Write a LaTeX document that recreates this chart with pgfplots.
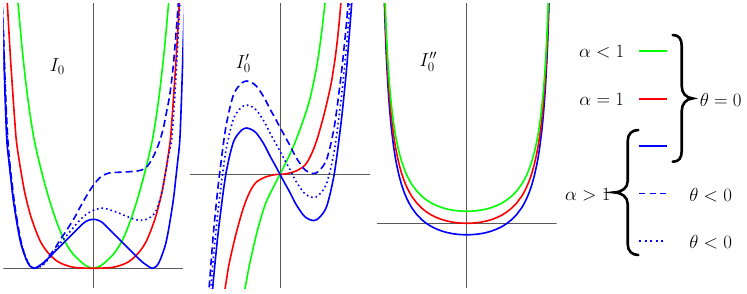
\documentclass[border=0pt]{standalone}
\usepackage{pgfplots}
\pgfplotsset{compat=1.18}
\begin{document}
\fontsize{17.28}{21}\selectfont
\begin{tikzpicture}[x=1pt,y=1pt,every node/.append style={scale=1.09}]
\useasboundingbox (0,0) rectangle (747,293);
\pgfplotsset{
  panel/.style={x=1pt,y=1pt,xmin=-90,xmax=90,hide axis,anchor=south west},
  ax/.style={black!65,line width=0.8pt,forget plot},
  c/.style={line width=1.6pt,smooth},
  dsh/.style={c,blue,dash pattern=on 7pt off 4pt},
  dot/.style={c,blue,dash pattern=on 1.6pt off 3pt}
}
% ---------- panel 1: I_0 ----------
\begin{axis}[panel,ymin=-20,ymax=265,at={(3.3pt,4.7pt)}]
\addplot[ax] coordinates {(-90,0) (90,0)};
\addplot[ax] coordinates {(0,-20) (0,265)};
\addplot[c,green] coordinates {(-77,285)(-75,262)(-71,218)(-67,182)(-63,152)(-59,128)(-55,110)(-50,90)(-45,72)(-40,56)(-35,42)(-30,30)(-25,21)(-20,14)(-14,8)(-8,3)(0,0)(8,3)(14,8)(20,14)(25,21)(30,30)(35,42)(40,56)(45,72)(50,90)(55,110)(59,128)(63,152)(67,182)(71,218)(75,262)(77,285)};
\addplot[c,red] coordinates {(-87.5,288)(-86,265)(-83,213)(-80,168)(-78.5,147)(-77,128)(-74,107)(-72,95)(-69,78)(-66,65)(-62.5,52)(-58,39)(-53,27)(-48,19)(-43,13)(-36,7)(-30,4)(-22,1.5)(-15,0.5)(0,0)(15,0.5)(22,1.5)(30,4)(36,7)(43,13)(48,19)(53,27)(58,39)(62.5,52)(66,65)(69,78)(72,95)(74,107)(77,128)(78.5,147)(80,168)(83,213)(86,265)(87.5,288)};
\addplot[c,blue] coordinates {(-91,262)(-90,232)(-89,197)(-88,165)(-86.5,128)(-84.5,108)(-82.5,90)(-80.5,72)(-78.3,57)(-75.5,40)(-72.5,25)(-69,14)(-66,6.5)(-63,2)(-59,0)(-55,2)(-50,5.5)(-45,10)(-40,15)(-30,25)(-20,35)(-10,45)(-5,48)(0,49)(5,48)(10,45)(20,35)(30,25)(40,15)(45,10)(50,5.5)(55,2)(59,0)(63,2)(66,6.5)(69,14)(72.5,25)(75.5,40)(78.3,57)(80.5,72)(82.5,90)(84.5,108)(86.5,128)(88,165)(89,195)(90,230)(91,262)};
\addplot[dsh] coordinates {(-91,272)(-90,240)(-89,210)(-88,182)(-87,158)(-86,138)(-85,122)(-83,100)(-81,83)(-78.5,63)(-75.5,44)(-72.5,28)(-69.5,16)(-66,7)(-63,2)(-60,0)(-57,0.5)(-54,1.5)(-50,4.5)(-43.3,13.3)(-38,20.5)(-33.3,28.3)(-28,36)(-23.3,43.3)(-18,52)(-13.3,61)(-7,72)(0,83)(7,91)(12,94)(17,95.5)(25,96)(35,96.5)(45,97.5)(50,99)(54,102)(58,108)(62,116)(66,126)(70,140)(73,155)(76.7,175)(80,203)(82.7,235)(85,265)(86,280)};
\addplot[dot] coordinates {(-91,270)(-90,238)(-89,206)(-88,178)(-87,152)(-86,130)(-84.5,110)(-82.5,92)(-80.5,75)(-78.3,59)(-75.5,42)(-72.5,27)(-69,15)(-66,7)(-63,2.5)(-60,0.3)(-57,0.2)(-53.3,1.5)(-48,5.5)(-43.3,11.7)(-38,18.5)(-33.3,25)(-28,31)(-23.3,36.7)(-18,43)(-13.3,48.3)(-7,54)(0,58)(7,60)(12,59.8)(17,58.3)(25,55.5)(30,53.3)(37,50.5)(43.3,48.5)(48,48)(53.3,49)(57,51)(60,53.5)(63,58)(65,63.3)(68.3,75)(71.7,91.7)(75,111.7)(78.5,130)(82,180)(84.5,225)(86.7,265)(87.5,282)};
\node at (axis cs:-36,202) {$I_0$};
\end{axis}
% ---------- panel 2: I_0' ----------
\begin{axis}[panel,ymin=-114,ymax=171,at={(190pt,4.7pt)}]
\addplot[ax] coordinates {(-90,0) (90,0)};
\addplot[ax] coordinates {(0,-114) (0,171)};
\addplot[c,green] coordinates {(-37,-125)(-35,-114)(-30,-88)(-23.3,-59)(-18,-40)(-13.3,-26.5)(-7,-13.5)(0,0)(7,14)(13.3,27.7)(20,45)(26.7,64.3)(31,80)(36.7,107.7)(41,137)(45,171)(46,180)};
\addplot[c,red] coordinates {(-62,-184)(-60.7,-169)(-59,-150)(-57,-131)(-55,-115)(-53.3,-104)(-51,-90)(-47,-72)(-43.3,-57)(-38,-38)(-33.3,-24.5)(-28,-13.5)(-23.3,-7.5)(-16,-3.3)(-10,-1.4)(-5,-0.3)(0,0)(5,0.3)(10,1.4)(16,3.3)(23.3,7.5)(28,13.5)(33.3,24.5)(38,38)(43.3,57)(47,72)(51,90)(53.3,104)(55,115)(57,131)(59,150)(60.7,169)(62,184)};
\addplot[c,blue] coordinates {(-73,-190)(-71.7,-171)(-69,-136)(-66.7,-107)(-64,-79)(-61.7,-57)(-59,-35)(-56.7,-17)(-54.2,0)(-52,11)(-50,20)(-46.7,32)(-43.3,38.5)(-38,44.5)(-33.3,46.3)(-28,44.5)(-23.3,40.8)(-16,30)(-10,18.3)(-5,9.3)(0,0)(5,-9.3)(10,-18.3)(16,-30)(23.3,-40.8)(28,-44.5)(33.3,-46.3)(38,-44.5)(43.3,-38.5)(46.7,-32)(50,-20)(52,-11)(54.2,0)(56.7,17)(59,35)(61.7,57)(64,79)(66.7,107)(69,136)(71.7,171)(73,190)};
\addplot[dsh] coordinates {(-71.7,-124)(-69,-89)(-66.7,-60)(-64,-32)(-61.7,-10)(-59,12)(-56.7,30)(-54.2,47)(-52,58)(-50,67)(-46.7,79)(-43.3,85.5)(-38,91.5)(-33.3,93.3)(-28,91.5)(-23.3,87.8)(-16,77)(-10,65.3)(-5,56.3)(0,47)(5,37.7)(10,28.7)(16,17)(23.3,6.2)(28,2.5)(33.3,0.7)(38,2.5)(43.3,8.5)(46.7,15)(50,27)(52,36)(54.2,47)(56.7,64)(59,82)(61.7,104)(64,126)(66.7,154)(69,183)};
\addplot[dot] coordinates {(-71.7,-148)(-69,-113)(-66.7,-84)(-64,-56)(-61.7,-34)(-59,-12)(-56.7,6)(-54.2,23)(-52,34)(-50,43)(-46.7,55)(-43.3,61.5)(-38,67.5)(-33.3,69.3)(-28,67.5)(-23.3,63.8)(-16,53)(-10,41.3)(-5,32.3)(0,23)(5,13.7)(10,4.7)(16,-7)(23.3,-17.8)(28,-21.5)(33.3,-23.3)(38,-21.5)(43.3,-15.5)(46.7,-9)(50,3)(52,12)(54.2,23)(56.7,40)(59,58)(61.7,80)(64,102)(66.7,130)(69,159)(71.7,194)};
\node at (axis cs:-36.7,111) {$I_0'$};
\end{axis}
% ---------- panel 3: I_0'' ----------
\begin{axis}[panel,ymin=-65,ymax=220,at={(376.7pt,4.7pt)}]
\addplot[ax] coordinates {(-90,0) (90,0)};
\addplot[ax] coordinates {(0,-65) (0,220)};
\addplot[line width=1.6pt,blue] coordinates {(-83,247.3)(-82.5,227.9)(-82,210.8)(-81.5,195.8)(-81,182.5)(-80.5,170.5)(-80,159.8)(-79,141.2)(-78,125.8)(-77,112.8)(-76,101.6)(-75,91.9)(-73,76)(-71.5,66.3)(-70,58.2)(-67.5,47)(-65,38.1)(-62.5,30.9)(-60,24.9)(-57.5,19.9)(-55,15.6)(-50,8.8)(-45,3.7)(-40,-0.3)(-35,-3.4)(-30,-5.81)(-25,-7.7)(-20,-9.14)(-15,-10.2)(-10,-10.93)(-5,-11.36)(0,-11.5)(5,-11.36)(10,-10.93)(15,-10.2)(20,-9.14)(25,-7.7)(30,-5.81)(35,-3.4)(40,-0.3)(45,3.7)(50,8.8)(55,15.6)(57.5,19.9)(60,24.9)(62.5,30.9)(65,38.1)(67.5,47)(70,58.2)(71.5,66.3)(73,76)(75,91.9)(76,101.6)(77,112.8)(78,125.8)(79,141.2)(80,159.8)(80.5,170.5)(81,182.5)(81.5,195.8)(82,210.8)(82.5,227.9)(83,247.3)};
\addplot[line width=1.6pt,red] coordinates {(-83,258.8)(-82.5,239.4)(-82,222.3)(-81.5,207.3)(-81,194)(-80.5,182)(-80,171.3)(-79,152.7)(-78,137.3)(-77,124.3)(-76,113.1)(-75,103.4)(-73,87.5)(-71.5,77.8)(-70,69.7)(-67.5,58.5)(-65,49.6)(-62.5,42.4)(-60,36.4)(-57.5,31.4)(-55,27.1)(-50,20.3)(-45,15.2)(-40,11.2)(-35,8.1)(-30,5.69)(-25,3.8)(-20,2.36)(-15,1.3)(-10,0.57)(-5,0.14)(0,0)(5,0.14)(10,0.57)(15,1.3)(20,2.36)(25,3.8)(30,5.69)(35,8.1)(40,11.2)(45,15.2)(50,20.3)(55,27.1)(57.5,31.4)(60,36.4)(62.5,42.4)(65,49.6)(67.5,58.5)(70,69.7)(71.5,77.8)(73,87.5)(75,103.4)(76,113.1)(77,124.3)(78,137.3)(79,152.7)(80,171.3)(80.5,182)(81,194)(81.5,207.3)(82,222.3)(82.5,239.4)(83,258.8)};
\addplot[line width=1.6pt,green] coordinates {(-82.5,251.4)(-82,234.3)(-81.5,219.3)(-81,206)(-80.5,194)(-80,183.3)(-79,164.7)(-78,149.3)(-77,136.3)(-76,125.1)(-75,115.4)(-73,99.5)(-71.5,89.8)(-70,81.7)(-67.5,70.5)(-65,61.6)(-62.5,54.4)(-60,48.4)(-57.5,43.4)(-55,39.1)(-50,32.3)(-45,27.2)(-40,23.2)(-35,20.1)(-30,17.69)(-25,15.8)(-20,14.36)(-15,13.3)(-10,12.57)(-5,12.14)(0,12)(5,12.14)(10,12.57)(15,13.3)(20,14.36)(25,15.8)(30,17.69)(35,20.1)(40,23.2)(45,27.2)(50,32.3)(55,39.1)(57.5,43.4)(60,48.4)(62.5,54.4)(65,61.6)(67.5,70.5)(70,81.7)(71.5,89.8)(73,99.5)(75,115.4)(76,125.1)(77,136.3)(78,149.3)(79,164.7)(80,183.3)(80.5,194)(81,206)(81.5,219.3)(82,234.3)(82.5,251.4)};
\node at (axis cs:-38.3,161.6) {$I_0''$};
\end{axis}
% ---------- legend ----------
\node at (601.7,241.3) {$\alpha<1$};
\node at (601.7,194) {$\alpha=1$};
\node at (587.8,98) {$\alpha>1$};
\node at (720.7,193) {$\theta=0$};
\node at (710.7,98) {$\theta<0$};
\node at (710.7,50.7) {$\theta<0$};
\draw[green,line width=1.6pt] (639.3,242) -- (666.7,242);
\draw[red,line width=1.6pt] (639.3,194.3) -- (666.7,194.3);
\draw[blue,line width=1.6pt] (639.3,147) -- (666.7,147);
\draw[blue,line width=1.6pt,dash pattern=on 6pt off 4.5pt] (639.3,99.5) -- (666.7,99.5);
\draw[blue,line width=1.6pt,dash pattern=on 2pt off 3.5pt] (639.3,52.3) -- (666.7,52.3);
% braces
\draw[line width=2.6pt,line cap=round] (672.7,258) .. controls (679,258) and (681.7,254) .. (681.7,247) -- (681.7,207) .. controls (681.7,200) and (686,195) .. (692.7,194.6) .. controls (686,194.2) and (681.7,189) .. (681.7,182) -- (681.7,142) .. controls (681.7,135) and (679,131.3) .. (672.7,131.3);
\draw[line width=2.6pt,line cap=round] (638.3,163) .. controls (632,163) and (627.7,159) .. (627.7,152) -- (627.7,112) .. controls (627.7,105) and (622,101) .. (614.3,100.6) .. controls (622,100.2) and (627.7,96) .. (627.7,89) -- (627.7,49) .. controls (627.7,42) and (632,38) .. (638.3,38);
\end{tikzpicture}
\end{document}
